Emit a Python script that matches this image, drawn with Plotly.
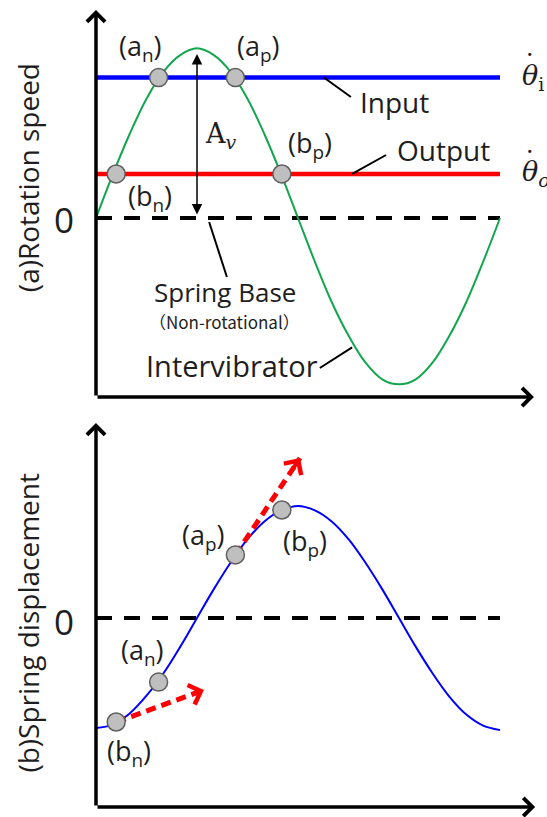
import plotly.graph_objects as go

# ---------------------------------------------------------------- data
# one period of the cycle, sampled every 15 degrees (fraction of a period)
phase = [i / 24 for i in range(25)]

# (a) rotation speed of the intervibrator, in units of the amplitude A_v
intervibrator_speed = [0.00, 0.26, 0.50, 0.71, 0.87, 0.97, 1.01, 0.97, 0.87,
                       0.71, 0.50, 0.26, 0.00, -0.26, -0.50, -0.70, -0.86,
                       -0.96, -0.99, -0.96, -0.86, -0.70, -0.50, -0.26, 0.00]
input_speed = 0.836    # theta_i dot
output_speed = 0.262   # theta_o dot
spring_base_speed = 0.0
amplitude_v = 1.0

# (b) spring displacement over the same period
spring_displacement = [-0.99, -0.96, -0.86, -0.70, -0.50, -0.26, 0.00, 0.26,
                       0.50, 0.71, 0.87, 0.97, 1.01, 0.97, 0.87, 0.71, 0.50,
                       0.26, 0.00, -0.26, -0.50, -0.71, -0.87, -0.97, -1.01]

# engagement points where the intervibrator meets the input / output speed
point_labels = ["(b<sub>n</sub>)", "(a<sub>n</sub>)", "(a<sub>p</sub>)", "(b<sub>p</sub>)"]
point_phase = [0.050, 0.155, 0.345, 0.460]
point_speed = [output_speed, input_speed, input_speed, output_speed]
point_disp = [-0.937, -0.577, 0.568, 0.973]

# tangent (velocity) arrows in (b), starting at b_n and a_p
arrow_start_idx = [0, 2]
arrow_end_phase = [0.267, 0.505]
arrow_end_disp = [-0.649, 1.441]

# ---------------------------------------------------------------- styling
FONT = "Open Sans"
SERIF = "DejaVu Serif"
TXT = "#1e1e1e"
GREEN = "#13A64E"
BLUE = "#0000FF"
RED = "#FF0000"
DOT_FILL = "#BFBFBF"
DOT_EDGE = "#5E5E5E"

W, H = 547, 817
X_RANGE = [-0.2376, 1.1163]
YA_RANGE = [-3.5655, 1.2976]   # panel (a)
YB_RANGE = [-1.7928, 5.5676]   # panel (b)

fig = go.Figure()

# ---------------------------------------------------------------- panel (a)
fig.add_trace(go.Scatter(x=[0, 1], y=[spring_base_speed] * 2, mode="lines",
                         line=dict(color="black", width=4, dash="16px,12px"),
                         xaxis="x", yaxis="y"))
fig.add_trace(go.Scatter(x=[0, 1], y=[input_speed] * 2, mode="lines",
                         line=dict(color=BLUE, width=4.5), xaxis="x", yaxis="y"))
fig.add_trace(go.Scatter(x=[0, 1], y=[output_speed] * 2, mode="lines",
                         line=dict(color=RED, width=4.5), xaxis="x", yaxis="y"))
fig.add_trace(go.Scatter(x=phase, y=intervibrator_speed, mode="lines",
                         line=dict(color=GREEN, width=2, shape="spline"),
                         xaxis="x", yaxis="y"))
fig.add_trace(go.Scatter(x=point_phase, y=point_speed, mode="markers",
                         marker=dict(size=18, color=DOT_FILL,
                                     line=dict(color=DOT_EDGE, width=1.5)),
                         xaxis="x", yaxis="y"))

# ---------------------------------------------------------------- panel (b)
fig.add_trace(go.Scatter(x=[0, 1], y=[0, 0], mode="lines",
                         line=dict(color="black", width=4, dash="16px,12px"),
                         xaxis="x2", yaxis="y2"))
fig.add_trace(go.Scatter(x=phase, y=spring_displacement, mode="lines",
                         line=dict(color=BLUE, width=2, shape="spline"),
                         xaxis="x2", yaxis="y2"))
for i, k in enumerate(arrow_start_idx):
    fig.add_trace(go.Scatter(x=[point_phase[k], arrow_end_phase[i]],
                             y=[point_disp[k], arrow_end_disp[i]], mode="lines",
                             line=dict(color=RED, width=5, dash="10px,6px"),
                             xaxis="x2", yaxis="y2"))
fig.add_trace(go.Scatter(x=point_phase, y=point_disp, mode="markers",
                         marker=dict(size=18, color=DOT_FILL,
                                     line=dict(color=DOT_EDGE, width=1.5)),
                         xaxis="x2", yaxis="y2"))

annotations = []


def arrow(xref, yref, x0, y0, x1, y1, **kw):
    d = dict(x=x1, y=y1, ax=x0, ay=y0, xref=xref, yref=yref, axref=xref,
             ayref=yref, text="", showarrow=True)
    d.update(kw)
    return d


def label(xref, yref, x, y, text, size=27, family=FONT, **kw):
    d = dict(x=x, y=y, xref=xref, yref=yref, text=text, showarrow=False,
             font=dict(family=family, size=size, color=TXT))
    d.update(kw)
    return d


axis_style = dict(arrowhead=4, arrowsize=1, arrowwidth=3.5, arrowcolor="black")

# axes with arrow tips
annotations += [
    arrow("x", "y", 0, -1.0655, 0, 1.238, **axis_style),
    arrow("x", "y", 0, -1.0655, 1.084, -1.0655, **axis_style),
    arrow("x2", "y2", 0, -1.703, 0, 1.757, **axis_style),
    arrow("x2", "y2", 0, -1.703, 1.087, -1.703, **axis_style),
]

# red arrow heads at the end of the dashed tangents
for i, k in enumerate(arrow_start_idx):
    x0, y0 = point_phase[k], point_disp[k]
    x1, y1 = arrow_end_phase[i], arrow_end_disp[i]
    annotations.append(arrow("x2", "y2", x1 - 0.12 * (x1 - x0), y1 - 0.12 * (y1 - y0),
                             x1, y1, arrowhead=4, arrowsize=1.0, arrowwidth=4,
                             arrowcolor=RED))

# amplitude A_v
annotations.append(arrow("x", "y", 0.25, spring_base_speed, 0.25, amplitude_v,
                         arrowhead=2, arrowside="end+start", arrowsize=1.4,
                         arrowwidth=1.5, arrowcolor="black", standoff=4,
                         startstandoff=2))
annotations.append(label("x", "y", 0.310, 0.494, "A<sub><i>v</i></sub>",
                         size=27, family=SERIF))

# point labels, panel (a)
a_pos = [(0.134, 0.125), (0.109, 1.012), (0.401, 1.012), (0.530, 0.435)]
for t, (x, y) in zip(point_labels, a_pos):
    annotations.append(label("x", "y", x, y, t))
# point labels, panel (b)
b_pos = [(0.082, -1.216), (0.114, -0.300), (0.267, 0.730), (0.517, 0.676)]
for t, (x, y) in zip(point_labels, b_pos):
    annotations.append(label("x2", "y2", x, y, t))

# zero labels and axis titles
annotations += [
    label("x", "y", -0.079, -0.01, "0", size=35),
    label("x2", "y2", -0.079, -0.03, "0", size=35),
    label("x", "y", -0.168, 0.238, "(a)Rotation speed", size=28, textangle=-90),
    label("x2", "y2", -0.168, -0.04, "(b)Spring displacement", size=28, textangle=-90),
]

# theta-dot labels at the right edge (dot drawn as a separate glyph)
theta_x = 1.050
annotations += [
    label("x", "y", theta_x, input_speed, "<i>θ</i><sub>i</sub>", size=27,
          family=SERIF, xanchor="left"),
    label("x", "y", theta_x, output_speed, "<i>θ</i><sub><i>o</i></sub>", size=27,
          family=SERIF, xanchor="left"),
    label("x", "y", theta_x + 0.025, input_speed + 0.075, "˙", size=27,
          family=SERIF),
    label("x", "y", theta_x + 0.025, output_speed + 0.075, "˙", size=27,
          family=SERIF),
]

# callout texts
annotations += [
    label("x", "y", 0.740, 0.690, "Input", size=28),
    label("x", "y", 0.859, 0.405, "Output", size=28),
    label("x", "y", 0.319, -0.440, "Spring Base", size=26),
    label("x", "y", 0.319, -0.618, "（Non-rotational）", size=17,
          family="Noto Sans CJK JP"),
    label("x", "y", 0.337, -0.880, "Intervibrator", size=29),
]

# callout leader lines (panel (a) data units)
leaders = [
    (0.564, input_speed, 0.631, 0.720),
    (0.634, output_speed, 0.718, 0.375),
    (0.280, -0.024, 0.324, -0.351),
    (0.554, -0.893, 0.634, -0.770),
]
shapes = [dict(type="line", xref="x", yref="y", x0=a, y0=b, x1=c, y1=d,
               line=dict(color="black", width=2)) for a, b, c, d in leaders]

hidden = dict(visible=False, showgrid=False, zeroline=False, fixedrange=True)
fig.update_layout(
    width=W, height=H, margin=dict(l=0, r=0, t=0, b=0),
    paper_bgcolor="white", plot_bgcolor="rgba(0,0,0,0)", showlegend=False,
    hovermode=False,
    xaxis=dict(range=X_RANGE, domain=[0, 1], anchor="y", **hidden),
    yaxis=dict(range=YA_RANGE, domain=[0, 1], anchor="x", **hidden),
    xaxis2=dict(range=X_RANGE, domain=[0, 1], anchor="y2", **hidden),
    yaxis2=dict(range=YB_RANGE, domain=[0, 1], anchor="x2", **hidden),
    annotations=annotations, shapes=shapes,
)

fig.write_html("out.html", config=dict(displayModeBar=False, staticPlot=True),
               post_script="document.body.style.margin='0';")
